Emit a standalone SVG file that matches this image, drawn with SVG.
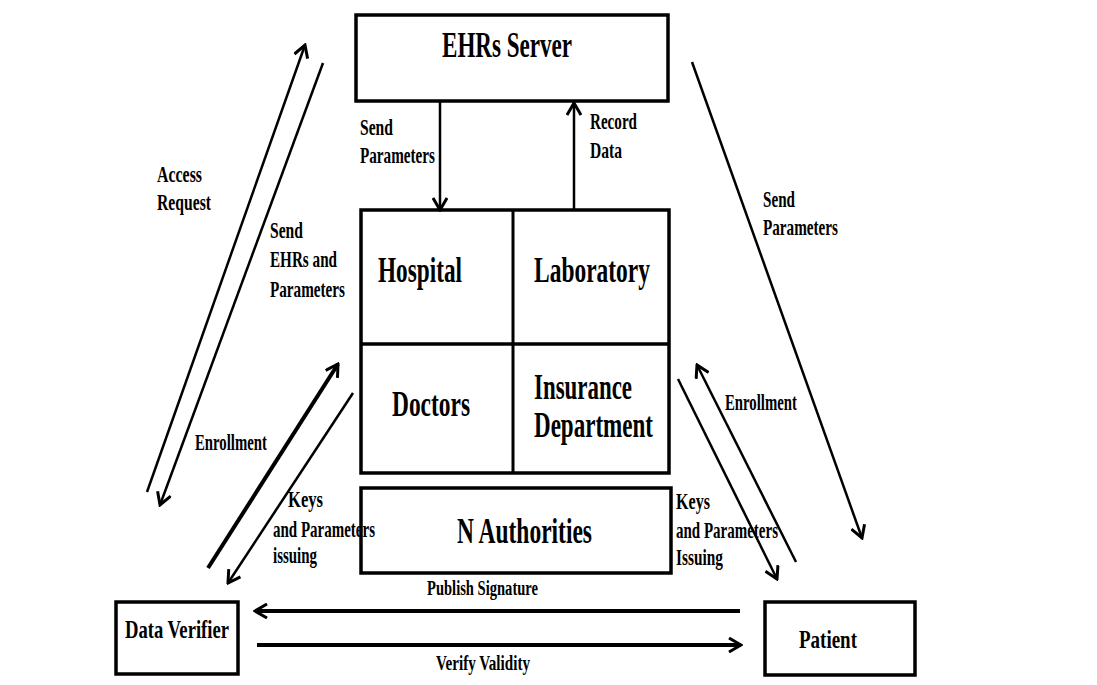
<svg xmlns="http://www.w3.org/2000/svg" width="1097" height="685" viewBox="0 0 1097 685">
<style>
text{font-family:"Liberation Serif","Times New Roman",serif;font-weight:bold;fill:#000}
.big{font-size:35px}
.mid{font-size:25px}
.lbl{font-size:23px}
.sm{font-size:20px}
.box{fill:#fff;stroke:#000;stroke-width:3.5}
.ln{stroke:#000;stroke-width:2.5;fill:none}
.thk{stroke:#000;stroke-width:4;fill:none}
</style>
<defs>
<marker id="ah" viewBox="0 0 16 16" refX="14" refY="8" markerWidth="16" markerHeight="16" markerUnits="userSpaceOnUse" orient="auto">
<path d="M2,1 L14,8 L2,15" fill="none" stroke="#000" stroke-width="3"/>
</marker>
</defs>
<rect width="1097" height="685" fill="#fff"/>
<g id="ehrs-server">
<rect class="box" x="356" y="15" width="312" height="86"/>
<text class="big" x="442" y="57" textLength="130" lengthAdjust="spacingAndGlyphs">EHRs Server</text>
</g>
<g id="center-grid">
<rect class="box" x="361" y="210" width="308" height="263"/>
<line x1="513" y1="210" x2="513" y2="473" stroke="#000" stroke-width="3"/>
<line x1="361" y1="344" x2="669" y2="344" stroke="#000" stroke-width="3.5"/>
</g>
<g id="hospital"><text class="big" x="378" y="282" textLength="84" lengthAdjust="spacingAndGlyphs">Hospital</text></g>
<g id="laboratory"><text class="big" x="534" y="282" textLength="116" lengthAdjust="spacingAndGlyphs">Laboratory</text></g>
<g id="doctors"><text class="big" x="392" y="416" textLength="78" lengthAdjust="spacingAndGlyphs">Doctors</text></g>
<g id="insurance-department">
<text class="big" x="534" y="399" textLength="98" lengthAdjust="spacingAndGlyphs">Insurance</text>
<text class="big" x="534" y="437" textLength="119" lengthAdjust="spacingAndGlyphs">Department</text>
</g>
<g id="n-authorities">
<rect class="box" x="361" y="488" width="310" height="85"/>
<text class="big" x="457" y="543" textLength="135" lengthAdjust="spacingAndGlyphs">N Authorities</text>
</g>
<g id="data-verifier">
<rect class="box" x="116" y="602" width="122" height="72"/>
<text class="mid" x="125" y="638" textLength="104" lengthAdjust="spacingAndGlyphs">Data Verifier</text>
</g>
<g id="patient">
<rect class="box" x="765" y="602" width="150" height="73"/>
<text class="mid" x="799" y="648" textLength="58" lengthAdjust="spacingAndGlyphs">Patient</text>
</g>
<g id="connectors">
<line class="ln" x1="147" y1="492" x2="305" y2="45" marker-end="url(#ah)"/>
<line class="ln" x1="323" y1="63" x2="160" y2="505" marker-end="url(#ah)"/>
<line class="thk" x1="208" y1="568" x2="338" y2="364" marker-end="url(#ah)"/>
<line class="ln" x1="353" y1="393" x2="228" y2="583" marker-end="url(#ah)"/>
<line class="ln" x1="692" y1="62" x2="862" y2="538" marker-end="url(#ah)"/>
<line class="ln" x1="678" y1="379" x2="777" y2="579" marker-end="url(#ah)"/>
<line class="ln" x1="796" y1="562" x2="697" y2="365" marker-end="url(#ah)"/>
<line class="ln" x1="440" y1="101" x2="440" y2="210" marker-end="url(#ah)"/>
<line class="ln" x1="574" y1="210" x2="574" y2="103" marker-end="url(#ah)"/>
<line class="thk" x1="740" y1="611" x2="255" y2="611" marker-end="url(#ah)"/>
<line class="thk" x1="257" y1="645" x2="741" y2="645" marker-end="url(#ah)"/>
<g id="connector-labels">
<text class="lbl" x="360" y="135" textLength="33" lengthAdjust="spacingAndGlyphs">Send</text>
<text class="lbl" x="360" y="163" textLength="75" lengthAdjust="spacingAndGlyphs">Parameters</text>
<text class="lbl" x="590" y="129" textLength="47" lengthAdjust="spacingAndGlyphs">Record</text>
<text class="lbl" x="590" y="158" textLength="32" lengthAdjust="spacingAndGlyphs">Data</text>
<text class="lbl" x="157" y="182" textLength="45" lengthAdjust="spacingAndGlyphs">Access</text>
<text class="lbl" x="157" y="210" textLength="54" lengthAdjust="spacingAndGlyphs">Request</text>
<text class="lbl" x="270" y="238" textLength="33" lengthAdjust="spacingAndGlyphs">Send</text>
<text class="lbl" x="270" y="267" textLength="67" lengthAdjust="spacingAndGlyphs">EHRs and</text>
<text class="lbl" x="270" y="297" textLength="75" lengthAdjust="spacingAndGlyphs">Parameters</text>
<text class="lbl" x="195" y="450" textLength="72" lengthAdjust="spacingAndGlyphs">Enrollment</text>
<text class="lbl" x="288" y="507" textLength="35" lengthAdjust="spacingAndGlyphs">Keys</text>
<text class="lbl" x="273" y="537" textLength="102" lengthAdjust="spacingAndGlyphs">and Parameters</text>
<text class="lbl" x="273" y="563" textLength="44" lengthAdjust="spacingAndGlyphs">issuing</text>
<text class="lbl" x="763" y="207" textLength="32" lengthAdjust="spacingAndGlyphs">Send</text>
<text class="lbl" x="763" y="235" textLength="75" lengthAdjust="spacingAndGlyphs">Parameters</text>
<text class="lbl" x="725" y="410" textLength="72" lengthAdjust="spacingAndGlyphs">Enrollment</text>
<text class="lbl" x="676" y="509" textLength="34" lengthAdjust="spacingAndGlyphs">Keys</text>
<text class="lbl" x="676" y="538" textLength="102" lengthAdjust="spacingAndGlyphs">and Parameters</text>
<text class="lbl" x="676" y="565" textLength="47" lengthAdjust="spacingAndGlyphs">Issuing</text>
<text class="sm" x="427" y="595" textLength="111" lengthAdjust="spacingAndGlyphs">Publish Signature</text>
<text class="sm" x="436" y="670" textLength="94" lengthAdjust="spacingAndGlyphs">Verify Validity</text>
</g>
</g>
</svg>
